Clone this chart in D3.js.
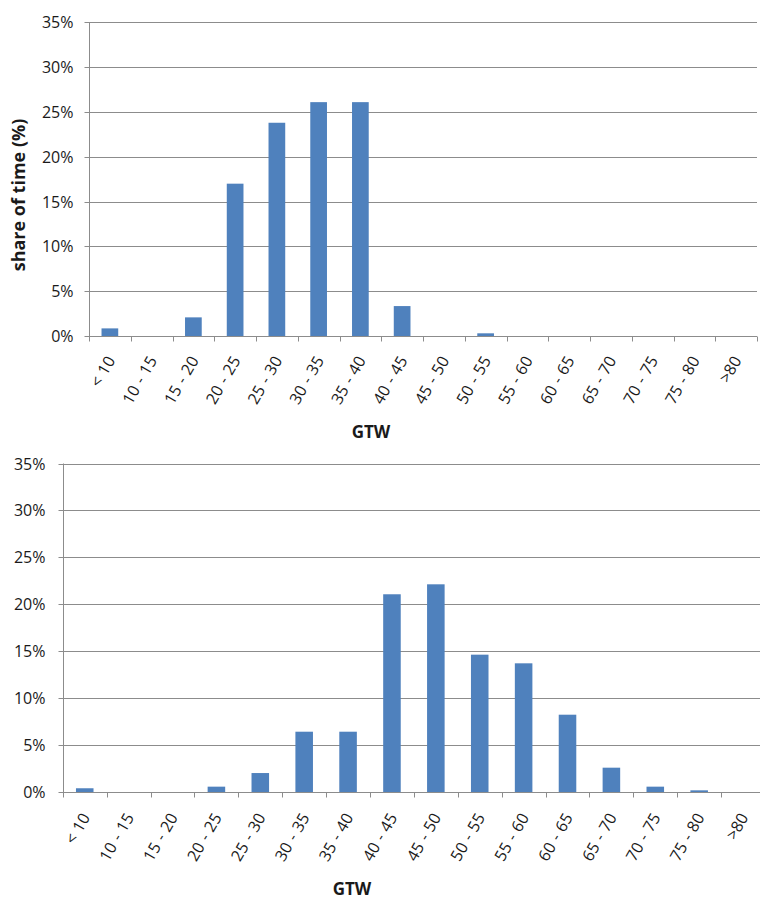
<!DOCTYPE html>
<html>
<head>
<meta charset="utf-8">
<script src="https://cdn.jsdelivr.net/npm/d3@7"></script>
<style>
  html, body { margin: 0; padding: 0; background: #fff; }
  svg { display: block; }
  text { font-family: "Open Sans", "Liberation Sans", sans-serif; fill: #1a1a1a; }
</style>
</head>
<body>
<svg id="chart" width="760" height="904"></svg>
<script>
// ---- data ----
const categories = ["< 10", "10 - 15", "15 - 20", "20 - 25", "25 - 30", "30 - 35", "35 - 40", "40 - 45",
                    "45 - 50", "50 - 55", "55 - 60", "60 - 65", "65 - 70", "70 - 75", "75 - 80", ">80"];
const topValues    = [0.0085, 0, 0.0208, 0.170, 0.238, 0.261, 0.261, 0.0334, 0, 0.003, 0, 0, 0, 0, 0, 0];
const bottomValues = [0.0043, 0, 0, 0.006, 0.0205, 0.0645, 0.0645, 0.2108, 0.2214, 0.1465, 0.1373, 0.0826, 0.0262, 0.006, 0.0021, 0];
const yTicks = [0, 0.05, 0.10, 0.15, 0.20, 0.25, 0.30, 0.35];
const xTitle = "GTW";
const yTitle = "share of time (%)";

const svg = d3.select("#chart");
const barColor = "#4F81BD";
const gridColor = "#8c8c8c";
const textColor = "#1a1a1a";

function drawChart(values, o) {
  const g = svg.append("g");
  const x = d3.scaleBand().domain(categories).range([o.left, o.right]).paddingInner(0).paddingOuter(0);
  const y = d3.scaleLinear().domain([0, 0.35]).range([o.bottom, o.top]);

  // gridlines
  g.append("g").selectAll("line").data(yTicks.filter(d => d > 0)).join("line")
    .attr("x1", o.left).attr("x2", o.right)
    .attr("y1", d => Math.round(y(d)) + 0.5).attr("y2", d => Math.round(y(d)) + 0.5)
    .attr("stroke", gridColor).attr("stroke-width", 1);

  // y axis
  const ya = g.append("g").attr("transform", `translate(${Math.round(o.left) + 0.5},0)`)
    .call(d3.axisLeft(y).tickValues(yTicks).tickSize(5).tickPadding(o.tickPad).tickFormat(d3.format(".0%")));
  ya.select(".domain").remove();
  ya.selectAll(".tick line").attr("stroke", gridColor);
  ya.selectAll(".tick").attr("transform", d => `translate(0,${Math.round(y(d)) + 0.5})`);
  ya.selectAll(".tick text").attr("font-size", 16).attr("font-family", "Open Sans").attr("fill", textColor);
  g.append("line").attr("x1", Math.round(o.left) + 0.5).attr("x2", Math.round(o.left) + 0.5)
    .attr("y1", y(0.35)).attr("y2", Math.round(y(0)) + 5.5).attr("stroke", gridColor);

  // bars
  const bw = x.step() * 0.4;
  g.append("g").selectAll("rect").data(values.map((v, i) => ({c: categories[i], v}))).join("rect")
    .attr("x", d => x(d.c) + (x.step() - bw) / 2)
    .attr("width", bw)
    .attr("y", d => y(d.v))
    .attr("height", d => Math.max(0, y(0) - y(d.v)))
    .attr("fill", barColor);

  // x axis line and ticks between categories
  const y0 = Math.round(y(0)) + 0.5;
  g.append("line").attr("x1", o.left).attr("x2", o.right).attr("y1", y0).attr("y2", y0).attr("stroke", gridColor);
  g.append("g").selectAll("line").data(d3.range(1, categories.length + 1)).join("line")
    .attr("x1", i => Math.round(o.left + i * x.step()) + 0.5)
    .attr("x2", i => Math.round(o.left + i * x.step()) + 0.5)
    .attr("y1", y0).attr("y2", y0 + 5).attr("stroke", gridColor);

  // x labels
  g.append("g").selectAll("text").data(categories).join("text")
    .attr("transform", d => `translate(${x(d) + x.step() / 2 + 1},${y0 + o.labelOff}) rotate(-60)`)
    .attr("text-anchor", "end").attr("dy", "0.35em")
    .attr("font-size", 16)
    .attr("word-spacing", "1px")
    .attr("fill", textColor)
    .text(d => d);

  // x title
  g.append("text").attr("x", o.xTitleX).attr("y", y0 + o.xTitleOff)
    .attr("text-anchor", "middle").attr("font-weight", "bold").attr("font-size", 17)
    .attr("fill", textColor)
    .text(xTitle);

  if (o.yTitle) {
    g.append("text").attr("transform", `translate(${o.yTitleX},${o.yTitleY}) rotate(-90)`)
      .attr("text-anchor", "middle").attr("dy", "0.35em").attr("font-weight", "bold").attr("font-size", 18)
      .attr("fill", textColor)
      .text(yTitle);
  }
}

drawChart(topValues, {left: 89, right: 757, top: 22.4, bottom: 336, labelOff: 21, tickPad: 11,
  xTitleX: 371, xTitleOff: 101, yTitle: true, yTitleX: 19, yTitleY: 195});
drawChart(bottomValues, {left: 62.8, right: 765, top: 463.5, bottom: 792.3, labelOff: 22, tickPad: 13,
  xTitleX: 352, xTitleOff: 102, yTitle: false});
</script>
</body>
</html>
